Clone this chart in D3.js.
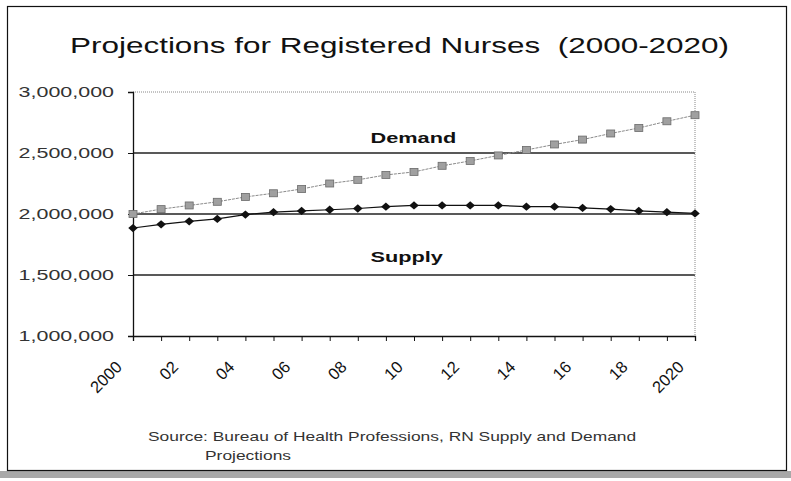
<!DOCTYPE html>
<html>
<head>
<meta charset="utf-8">
<script src="https://cdnjs.cloudflare.com/ajax/libs/d3/7.8.5/d3.min.js"></script>
<style>
  body { margin: 0; background: #fff; }
  svg { display: block; font-family: "Liberation Sans", Arial, sans-serif; }
</style>
</head>
<body>
<div id="chart"></div>
<script>
(function() {

  // data
  const years = [2000, 2001, 2002, 2003, 2004, 2005, 2006, 2007, 2008, 2009, 2010,
                 2011, 2012, 2013, 2014, 2015, 2016, 2017, 2018, 2019, 2020];
  const demand = [2000000, 2040000, 2070000, 2100000, 2140000, 2170000, 2205000, 2250000,
                  2280000, 2320000, 2345000, 2395000, 2435000, 2480000, 2525000, 2570000,
                  2610000, 2660000, 2705000, 2760000, 2810000];
  const supply = [1885000, 1915000, 1940000, 1960000, 1995000, 2015000, 2025000, 2035000,
                  2045000, 2060000, 2070000, 2070000, 2070000, 2070000, 2060000, 2060000,
                  2050000, 2040000, 2025000, 2015000, 2005000];
  const xTickLabels = ['2000', '02', '04', '06', '08', '10', '12', '14', '16', '18', '2020'];
  const yTicks = [1000000, 1500000, 2000000, 2500000, 3000000];
  const seriesLabels = [
    { text: 'Demand', year: 2008.45, value: 2582000 },
    { text: 'Supply', year: 2008.45, value: 1607000 }
  ];
  const title = 'Projections for Registered Nurses  (2000-2020)';
  const sourceLines = ['Source: Bureau of Health Professions, RN Supply and Demand', 'Projections'];

  const size = { x: 791, y: 481 };
  const plot = { left: 133, right: 695, top: 92, bottom: 336 };
  const SX = 1.45; // the picture is stretched sideways, text too

  const svg = d3.select('#chart')
    .append('svg')
    .attr('width', size.x)
    .attr('height', size.y);

  function stretched(sel, x, y) {
    return sel.attr('transform', `translate(${x},${y}) scale(${SX},1)`);
  }

  // outer frame + shadow band
  svg.append('rect')
    .attr('x', 0).attr('y', 471).attr('width', size.x).attr('height', 7)
    .attr('fill', '#a8a8a8');
  svg.append('rect')
    .attr('x', 7.5).attr('y', 6.5).attr('width', 779).attr('height', 464)
    .attr('fill', 'none').attr('stroke', '#111').attr('stroke-width', 1.2);

  // title
  stretched(svg.append('text'), 70, 53)
    .attr('font-size', 21.7)
    .attr('fill', '#111')
    .style('white-space', 'pre')
    .text(title);

  const xScale = d3.scaleLinear()
    .domain([years[0], years[years.length - 1]])
    .range([plot.left, plot.right]);
  const yScale = d3.scaleLinear()
    .domain([yTicks[0], yTicks[yTicks.length - 1]])
    .range([plot.bottom, plot.top]);

  // gridlines
  const topTick = yTicks[yTicks.length - 1];
  svg.append('g')
    .selectAll('line')
    .data(yTicks.slice(1))
    .enter()
    .append('line')
      .attr('x1', plot.left).attr('x2', plot.right)
      .attr('y1', d => yScale(d)).attr('y2', d => yScale(d))
      .attr('stroke', d => d === topTick ? '#888' : '#222')
      .attr('stroke-width', d => d === topTick ? 1 : 1.3)
      .attr('stroke-dasharray', d => d === topTick ? '1,1' : null);

  // right border of plot
  svg.append('line')
    .attr('x1', plot.right).attr('x2', plot.right)
    .attr('y1', plot.top).attr('y2', plot.bottom)
    .attr('stroke', '#888').attr('stroke-dasharray', '1,1');

  // y axis
  const yAxis = svg.append('g')
    .attr('transform', `translate(${plot.left},0)`)
    .call(d3.axisLeft(yScale).tickValues(yTicks).tickSize(5).tickFormat(d3.format(',')));
  yAxis.select('.domain').attr('stroke', '#111').attr('stroke-width', 1.3);
  yAxis.selectAll('.tick line').attr('stroke', '#111');
  yAxis.selectAll('.tick text')
    .attr('x', null)
    .attr('transform', `translate(-19,0) scale(${SX},1)`)
    .attr('font-size', 14.8)
    .attr('font-family', '"Liberation Sans", Arial, sans-serif')
    .attr('fill', '#333');

  // x axis
  const xAxis = svg.append('g')
    .attr('transform', `translate(0,${plot.bottom})`)
    .call(d3.axisBottom(xScale).tickValues(years).tickSize(5).tickFormat(''));
  xAxis.select('.domain').attr('stroke', '#111').attr('stroke-width', 1.3);
  xAxis.selectAll('.tick line').attr('stroke', '#111');

  const labelYears = years.filter((d, i) => i % 2 === 0);
  svg.append('g')
    .selectAll('text')
    .data(labelYears)
    .enter()
    .append('text')
      .attr('transform', d => `translate(${xScale(d) - 10},${plot.bottom + 32}) rotate(-45)`)
      .attr('text-anchor', 'end')
      .attr('font-size', 16.5)
      .attr('fill', '#111')
      .text((d, i) => xTickLabels[i]);

  // series
  const line = d3.line()
    .x((d, i) => xScale(years[i]))
    .y(d => yScale(d));

  svg.append('path')
    .datum(demand)
    .attr('d', line)
    .attr('fill', 'none')
    .attr('stroke', '#8a8a8a')
    .attr('stroke-width', 1)
    .attr('stroke-dasharray', '3,1');

  svg.append('path')
    .datum(supply)
    .attr('d', line)
    .attr('fill', 'none')
    .attr('stroke', '#111')
    .attr('stroke-width', 1.2);

  svg.append('g')
    .selectAll('rect')
    .data(demand)
    .enter()
    .append('rect')
      .attr('x', (d, i) => xScale(years[i]) - 4)
      .attr('y', d => yScale(d) - 3.5)
      .attr('width', 8)
      .attr('height', 7)
      .attr('fill', '#a0a0a0')
      .attr('stroke', '#6a6a6a')
      .attr('stroke-width', 0.8);

  const diamond = d3.symbol().type(d3.symbolDiamond2).size(44);
  svg.append('g')
    .selectAll('path')
    .data(supply)
    .enter()
    .append('path')
      .attr('d', diamond)
      .attr('transform', (d, i) => `translate(${xScale(years[i])},${yScale(d)}) scale(1.15,1)`)
      .attr('fill', '#111');

  // series names
  seriesLabels.forEach(d => {
    stretched(svg.append('text'), xScale(d.year), yScale(d.value))
      .attr('font-size', 15)
      .attr('font-weight', 'bold')
      .attr('fill', '#111')
      .text(d.text);
  });

  // source note
  stretched(svg.append('text'), 148, 441)
    .attr('font-size', 12)
    .attr('fill', '#333')
    .text(sourceLines[0]);
  stretched(svg.append('text'), 205, 460)
    .attr('font-size', 12)
    .attr('fill', '#333')
    .text(sourceLines[1]);

}());
</script>
</body>
</html>
